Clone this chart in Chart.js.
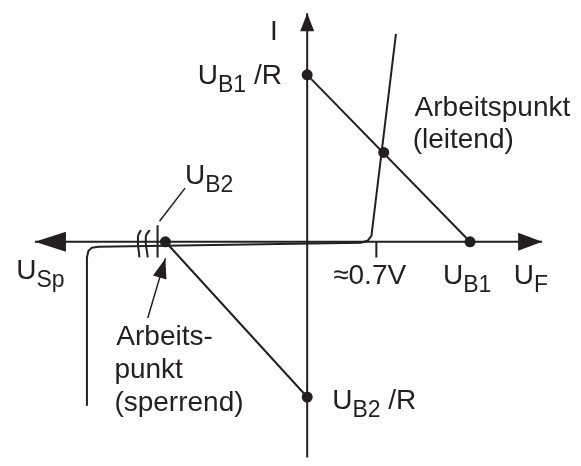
<!DOCTYPE html>
<html>
<head>
<meta charset="utf-8">
<script src="https://cdn.jsdelivr.net/npm/chart.js@4.4.0/dist/chart.umd.min.js"></script>
<style>
	body { margin: 0; background: #ffffff; }
	#wrap { width: 581px; height: 466px; }
</style>
</head>
<body>
<div id="wrap"><canvas id="kennlinie" width="581" height="466"></canvas></div>
<script>

// Achsen (Spannung U in V, Strom I in willkuerlichen Einheiten)
var achseUX = [-2.775, 2.395];
var achseUY = [0, 0];
var achseIX = [0, 0];
var achseIY = [-2.21, 2.34];

// Dioden-Kennlinie (Sperrbereich links, Knick bei ca. 0.7 V)
var diodeX = [-2.245, -2.245, -2.23, -2.195, -2.125, 0.545, 0.615, 0.655, 0.905];
var diodeY = [-1.68, -0.16, -0.095, -0.06, -0.05, -0.01, 0.01, 0.06, 2.13];

// Arbeitsgeraden: U_B1 und U_B1/R bzw. U_B2 und U_B2/R
var ub1 = 1.66, ub1R = 1.71;
var ub2 = -1.445, ub2R = -1.59;
var gerade1X = [0, ub1];
var gerade1Y = [ub1R, 0];
var gerade2X = [ub2, 0];
var gerade2Y = [0, ub2R];

// Punkte auf den Achsen und Arbeitspunkte
var punkteX = [0, 0.78, ub1, ub2, 0];
var punkteY = [ub1R, 0.915, 0, 0, ub2R];

// Markierung 0.7 V und U_B2, Achsenunterbrechung
var tick07X = [0.705, 0.705];
var tick07Y = [0, -0.16];
var tickUB2X = [-1.525, -1.525];
var tickUB2Y = [0.17, -0.16];
var bruch1X = [-1.695, -1.725, -1.71];
var bruch1Y = [0.12, 0.05, -0.16];
var bruch2X = [-1.605, -1.645, -1.625];
var bruch2Y = [0.12, 0.05, -0.16];

// Hinweislinien
var hinweisUB2X = [-1.505, -1.245];
var hinweisUB2Y = [0.21, 0.55];
var pfeilAPX = [-1.625, -1.445];
var pfeilAPY = [-0.78, -0.17];

// Beschriftung ("_" = tiefgestellt)
var beschriftung = [
	{ t: ["I"], x: -0.38, y: 2.07 },
	{ t: ["U", "_B1", " /R"], x: -1.115, y: 1.62 },
	{ t: ["Arbeitspunkt"], x: 1.095, y: 1.29 },
	{ t: ["(leitend)"], x: 1.075, y: 0.96 },
	{ t: ["U", "_B2"], x: -1.245, y: 0.59 },
	{ t: ["U", "_Sp"], x: -2.965, y: -0.38 },
	{ t: ["\u22480.7V"], x: 0.265, y: -0.43 },
	{ t: ["U", "_B1"], x: 1.385, y: -0.43 },
	{ t: ["U", "_F"], x: 2.105, y: -0.43 },
	{ t: ["Arbeits-"], x: -1.945, y: -1.06 },
	{ t: ["punkt"], x: -1.965, y: -1.40 },
	{ t: ["(sperrend)"], x: -1.965, y: -1.73 },
	{ t: ["U", "_B2", " /R"], x: 0.255, y: -1.71 }
];

var farbe = "#231f20";

function punkte(xs, ys){
	return xs.map(function(x, i){ return { x: x, y: ys[i] }; });
}

function linie(xs, ys, extra){
	var ds = {
		data: punkte(xs, ys),
		showLine: true,
		borderColor: farbe,
		borderWidth: 2,
		pointRadius: 0,
		tension: 0,
		fill: false
	};
	for (var k in extra) { ds[k] = extra[k]; }
	return ds;
}

var pfeilPlugin = {
	id: 'pfeile',
	afterDatasetsDraw: function(chart){
		var ctx = chart.ctx;
		chart.data.datasets.forEach(function(ds, i){
			if (!ds.pfeile) { return; }
			var pts = chart.getDatasetMeta(i).data;
			ds.pfeile.forEach(function(p){
				var a = p.ende ? pts[pts.length - 1] : pts[0];
				var b = p.ende ? pts[pts.length - 2] : pts[1];
				var w = Math.atan2(a.y - b.y, a.x - b.x);
				ctx.save();
				ctx.translate(a.x, a.y);
				ctx.rotate(w);
				ctx.beginPath();
				ctx.moveTo(0, 0);
				ctx.lineTo(-p.len, -p.half);
				ctx.lineTo(-p.len, p.half);
				ctx.closePath();
				ctx.fillStyle = farbe;
				ctx.fill();
				ctx.restore();
			});
		});
	}
};

var textPlugin = {
	id: 'texte',
	afterDraw: function(chart){
		var ctx = chart.ctx;
		var sx = chart.scales.x, sy = chart.scales.y;
		ctx.save();
		ctx.fillStyle = farbe;
		ctx.textBaseline = 'alphabetic';
		ctx.textAlign = 'left';
		beschriftung.forEach(function(b){
			var x = sx.getPixelForValue(b.x);
			var y = sy.getPixelForValue(b.y);
			b.t.forEach(function(teil){
				var sub = teil.charAt(0) === '_';
				var s = sub ? teil.substring(1) : teil;
				ctx.font = (sub ? '23px' : '28px') + ' "Liberation Sans", Arial, sans-serif';
				ctx.fillText(s, x, y + (sub ? 8 : 0));
				x += ctx.measureText(s).width;
			});
		});
		ctx.restore();
	}
};

function init_chart_diode(){

	if( typeof (Chart) === 'undefined'){ return; }

	console.log('init_chart_diode');

	var datasets = [
		linie(achseUX, achseUY, { pfeile: [{ ende: true, len: 24, half: 9 }, { ende: false, len: 31, half: 10 }] }),
		linie(achseIX, achseIY, { pfeile: [{ ende: true, len: 18, half: 7 }] }),
		linie(diodeX, diodeY, { borderJoinStyle: 'round' }),
		linie(gerade1X, gerade1Y),
		linie(gerade2X, gerade2Y),
		linie(tick07X, tick07Y),
		linie(tickUB2X, tickUB2Y),
		linie(bruch1X, bruch1Y, { tension: 0.5 }),
		linie(bruch2X, bruch2Y, { tension: 0.5 }),
		linie(hinweisUB2X, hinweisUB2Y, { borderWidth: 1.5 }),
		linie(pfeilAPX, pfeilAPY, { borderWidth: 1.5, pfeile: [{ ende: true, len: 20, half: 7 }] }),
		{
			data: punkte(punkteX, punkteY),
			showLine: false,
			pointRadius: 5.5,
			pointBackgroundColor: farbe,
			pointBorderColor: farbe,
			pointBorderWidth: 0
		}
	];

	var chart_settings = {
		type: 'scatter',
		data: { datasets: datasets },
		options: {
			responsive: false,
			animation: false,
			events: [],
			layout: { padding: 0 },
			plugins: { legend: { display: false }, tooltip: { enabled: false } },
			scales: {
				x: { type: 'linear', display: false, min: -3.075, max: 2.735 },
				y: { type: 'linear', display: false, min: -2.24, max: 2.42 }
			}
		},
		plugins: [pfeilPlugin, textPlugin]
	};

	var chart_diode = new Chart(document.getElementById('kennlinie'), chart_settings);

}

init_chart_diode();
</script>
</body>
</html>
